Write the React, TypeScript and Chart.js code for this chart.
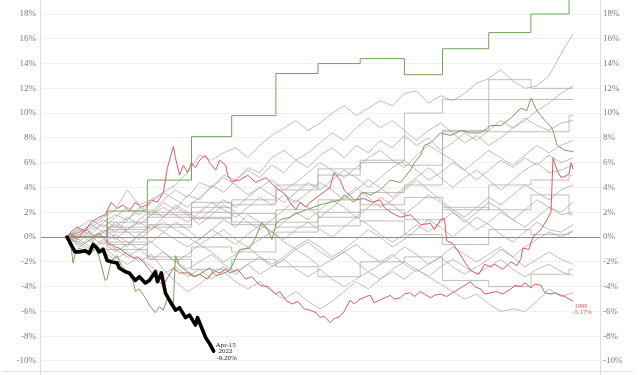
import React, { useEffect, useRef } from 'react';
import { Chart, registerables } from 'chart.js';
Chart.register(...registerables);

// trading-day index used as x
const grayDays = [0,6,12,18,24,30,36,42,48,54,60,66,72,78,84,90,96,102,108,114,120,126,132,138,144,150,156,162,168,174,180,186,192,198,204,210,216,222,228,234,240,246,252];
const monthDays = [0,20,40,62,82,104,125,146,168,187,210,231,250,252];

const grayA = [0,0.4,1.0,1.6,2.2,3.8,2.6,3.0,3.6,4.2,5.2,6.6,6.2,6.8,7.2,6.4,7.4,8.2,8.8,9.4,8.6,9.2,10.0,10.6,9.8,10.4,11.0,10.6,11.6,11.8,10.8,11.4,11.0,11.6,12.4,12.8,13.5,12.6,12.0,12.2,13.0,14.8,16.4];
const grayB = [0,0.6,0.2,1.2,1.8,1.4,2.4,2.0,3.0,3.8,3.2,4.4,4.0,5.0,4.6,5.6,5.2,6.4,7.0,6.2,6.8,7.6,8.4,7.8,8.8,9.6,8.8,9.4,8.6,7.8,8.6,9.2,8.4,7.6,8.2,7.4,8.0,8.8,9.4,10.2,10.8,11.6,12.2];
const grayC = [0,-0.4,0.6,1.0,0.4,1.4,2.2,1.8,2.8,2.2,3.4,3.0,4.2,3.6,4.6,5.4,4.8,5.8,5.2,6.2,5.6,6.6,7.2,6.4,7.4,6.8,7.8,7.2,8.2,7.4,8.0,7.0,7.6,8.4,7.8,8.6,9.4,8.8,9.6,9.0,8.6,9.2,9.4];
const grayD = [0,0.8,1.4,0.8,1.6,2.4,1.8,2.8,3.6,3.0,2.4,3.2,4.0,4.8,4.2,3.4,4.0,4.6,3.8,4.4,5.2,6.0,5.4,4.8,5.6,6.4,7.0,6.2,5.6,6.6,7.4,6.8,6.2,5.4,6.2,7.0,6.4,5.8,6.6,7.4,6.8,7.4,7.8];
const grayE = [0,0.2,-0.4,0.4,1.2,0.6,1.4,2.2,1.6,2.6,2.0,1.4,2.2,3.0,2.4,3.2,4.0,3.4,2.8,3.6,4.4,3.8,4.6,5.4,4.8,4.0,4.8,5.6,6.2,5.4,4.6,5.2,6.0,5.4,4.6,5.4,6.2,5.6,6.4,5.8,6.6,6.0,6.4];
const grayF = [0,0.4,1.0,0.4,-0.2,0.6,1.2,0.6,1.6,2.4,1.8,1.0,1.8,2.6,2.0,1.2,0.6,1.4,2.2,3.0,2.4,1.6,2.4,3.2,4.0,3.2,2.4,3.0,3.8,4.6,3.8,3.0,2.2,1.6,2.4,3.2,2.6,3.4,4.2,3.6,3.0,3.8,4.2];
const grayG = [0,-0.6,-0.2,0.6,0.0,-0.8,0.2,1.0,0.4,1.2,0.6,-0.2,0.6,1.4,0.8,1.8,1.2,0.4,1.2,2.0,1.4,2.2,3.0,2.4,1.6,2.4,3.2,2.6,1.8,2.6,3.4,2.8,2.0,1.2,2.0,2.8,2.2,1.4,2.2,3.0,2.4,2.0,2.8];
const grayH = [0,-0.4,-1.0,-0.4,-1.2,-0.6,0.2,-0.4,-1.2,-2.0,-1.4,-0.6,-1.2,-2.0,-1.4,-0.8,-1.6,-2.2,-1.6,-0.8,-0.2,-0.8,-1.6,-1.0,-0.2,0.6,0.0,-0.8,-0.2,0.6,1.4,0.8,0.0,0.8,1.6,1.0,0.2,-0.4,0.4,1.2,0.6,0.4,1.0];
const grayI = [0,-0.6,-1.2,-0.8,-1.6,-2.2,-1.6,-2.4,-3.0,-2.4,-3.2,-2.6,-3.4,-2.8,-3.6,-4.2,-3.6,-4.4,-5.0,-4.4,-5.2,-5.8,-5.2,-4.4,-3.6,-4.2,-3.4,-2.8,-3.4,-2.6,-3.2,-3.8,-4.4,-5.0,-4.6,-5.4,-6.0,-5.8,-6.0,-5.2,-4.2,-4.8,-4.5];
const grayJ = [0,-0.2,-0.8,-0.2,-1.0,-1.6,-1.0,-1.8,-1.2,-2.0,-2.6,-2.0,-1.4,-2.2,-2.8,-2.2,-3.0,-2.4,-1.8,-2.6,-3.2,-2.6,-3.4,-4.0,-3.4,-2.8,-3.4,-2.6,-2.0,-2.6,-3.2,-2.4,-1.8,-2.4,-3.0,-2.4,-1.8,-2.6,-3.2,-2.6,-2.2,-2.8,-3.1];
const grayK = [0,-0.8,-0.2,-1.2,-1.8,-1.2,-2.0,-1.4,-2.6,-3.6,-4.4,-3.8,-3.0,-2.4,-3.0,-2.2,-1.6,-2.4,-1.8,-1.0,-1.6,-2.4,-1.8,-1.2,-2.0,-2.8,-2.2,-1.6,-0.8,-1.4,-2.2,-1.6,-0.8,-1.4,-2.0,-1.4,-0.8,-1.6,-2.4,-1.8,-1.2,-1.8,-2.2];
const grayL = [0,0.6,0.0,-0.6,0.2,-0.4,-1.0,-0.4,0.4,-0.2,-0.8,-0.2,0.6,0.0,-0.6,0.2,1.0,0.4,-0.2,0.6,1.2,0.6,0.0,0.8,1.6,1.0,0.2,-0.4,0.2,1.0,0.4,1.2,2.0,1.4,0.6,1.2,2.0,1.4,0.8,1.6,2.4,1.8,2.0];
const grayM = [0,0.2,0.8,1.4,0.8,1.6,1.0,1.8,2.4,1.8,1.2,2.0,2.8,2.2,1.6,2.4,3.2,2.6,3.4,2.8,3.6,4.4,3.8,3.0,3.8,4.6,4.0,3.2,4.0,4.8,5.6,4.8,4.0,4.8,5.4,4.6,3.8,4.6,5.4,6.0,5.2,5.4,5.8];
const grayN = [0,0.4,-0.2,0.4,1.0,0.4,-0.2,0.6,1.2,0.6,0.0,-0.6,0.0,0.6,-0.2,-0.8,-0.2,0.4,-0.4,-1.0,-0.4,-1.2,-1.8,-1.2,-0.6,-1.4,-2.0,-1.4,-2.2,-2.8,-2.2,-1.6,-2.4,-3.0,-2.4,-1.8,-1.0,-1.6,-0.8,-0.2,0.4,0.0,0.5];

// monthly (stepped) years
const stepA = [0,0.8,1.6,2.4,3.0,4.2,5.0,6.2,10.0,11.1,11.1,11.1,11.1,11.1];
const stepB = [0,1.2,2.0,1.5,2.6,3.8,5.5,6.0,5.8,8.6,12.7,12.0,12.0,12.0];
const stepC = [0,-0.6,0.8,1.6,1.0,2.2,3.0,2.6,3.2,2.2,4.2,4.6,5.0,5.0];
const stepD = [0,-1.0,-1.6,-0.8,-1.2,0.4,0.9,1.3,0.2,-0.6,0.6,0.2,0.4,0.4];
const stepE = [0,0.4,1.8,2.8,1.9,1.2,2.0,3.6,4.2,8.5,8.5,8.5,9.8,9.8];
const stepF = [0,-0.4,-1.8,-2.6,-1.8,-2.4,-3.2,-2.0,-1.6,-3.5,-4.0,-3.0,-2.6,-2.6];
const stepG = [0,0.6,1.0,2.0,1.2,0.8,1.6,2.2,1.4,2.4,2.2,3.4,1.8,1.8];
const greenStep = [0,2.1,4.6,8.1,9.8,13.2,14.0,14.4,13.1,15.2,16.5,18.0,19.6,19.6];

const greenLine = [[0,0],[1,-0.6],[2,-0.7],[3,-2.1],[4,-1.4],[6,-0.9],[9,-1.1],[10,-1.3],[11,-1.5],[14,-0.9],[16,-1.6],[19,-3.5],[20,-3.4],[22,-1.9],[25,-1.5],[27,-2.3],[30,-2.8],[33,-3.6],[34,-4.4],[36,-4.2],[39,-4.9],[41,-5.5],[44,-6.1],[46,-5.6],[48,-5.9],[50,-4.9],[53,-5.3],[54,-1.5],[56,-2.3],[60,-2.8],[64,-3.2],[66,-3.0],[71,-2.5],[74,-3.1],[77,-3.0],[81,-2.7],[86,-1.0],[91,-0.9],[94,0.0],[97,1.2],[100,0.6],[102,-0.2],[104,1.0],[106,1.4],[111,1.6],[114,1.9],[116,2.0],[119,2.2],[121,2.3],[126,2.6],[131,2.8],[136,3.0],[138,3.4],[143,2.8],[146,3.4],[148,3.6],[151,3.4],[156,3.8],[161,4.6],[166,4.4],[168,4.8],[171,5.4],[173,6.0],[176,6.6],[178,7.4],[181,7.6],[186,8.4],[191,8.2],[196,8.6],[201,8.4],[206,8.4],[211,9.0],[216,9.0],[221,9.6],[226,10.4],[229,10.2],[231,11.2],[234,10.2],[236,9.8],[238,9.4],[241,8.9],[242,8.6],[244,7.4],[248,7.0],[252,6.9]];
const redUpper = [[0,0],[2,0.4],[5,0.8],[9,0.5],[12,1.2],[16,1.6],[19,1.8],[22,2.8],[25,2.3],[28,2.6],[31,2.1],[34,2.8],[37,2.4],[40,2.6],[42,3.0],[45,2.8],[48,3.6],[50,5.6],[53,7.3],[54,6.4],[56,5.0],[58,5.8],[60,5.2],[62,6.0],[64,5.6],[66,6.2],[69,6.6],[71,6.0],[74,5.4],[76,6.2],[79,5.8],[80,5.0],[82,4.5],[86,4.6],[90,5.0],[94,4.4],[99,4.8],[104,4.0],[109,3.4],[111,2.8],[114,2.2],[116,2.8],[119,2.4],[121,2.8],[126,3.4],[131,4.0],[133,5.2],[136,4.6],[138,3.8],[143,3.0],[148,3.1],[152,2.8],[156,3.0],[158,2.4],[161,2.0],[166,1.6],[171,1.8],[176,1.0],[181,1.1],[183,0.6],[186,1.4],[188,1.5],[189,-0.3],[192,-0.5],[195,-1.2],[198,-2.0],[201,-2.7],[205,-3.0],[208,-2.2],[211,-2.4],[213,-2.2],[217,-2.6],[221,-2.0],[224,-2.3],[226,-1.8],[227,-0.9],[230,-1.0],[232,0.0],[236,0.6],[239,1.4],[241,2.0],[242,6.4],[244,5.4],[246,4.8],[248,4.9],[250,5.1],[251,6.0],[252,5.5]];
const red1999 = [[0,0],[2,0.3],[5,-0.2],[8,0.4],[10,0.6],[13,0.1],[16,0.3],[19,-0.2],[21,-0.5],[24,-0.8],[26,-0.9],[30,-1.4],[33,-1.7],[35,-1.6],[38,-2.0],[41,-2.6],[45,-3.5],[48,-3.9],[50,-3.3],[53,-2.5],[56,-2.9],[60,-2.9],[63,-3.2],[66,-3.0],[70,-3.4],[73,-2.7],[76,-2.9],[79,-2.6],[81,-2.9],[85,-2.6],[89,-3.4],[92,-3.2],[96,-3.9],[100,-4.0],[104,-4.6],[106,-4.4],[109,-5.1],[112,-5.4],[115,-5.2],[118,-5.8],[121,-5.9],[124,-6.1],[126,-6.5],[128,-6.4],[131,-6.9],[133,-6.6],[136,-6.4],[138,-6.0],[141,-5.1],[143,-5.4],[146,-5.0],[149,-4.8],[151,-4.7],[153,-5.3],[157,-5.0],[161,-4.7],[163,-5.0],[166,-4.9],[168,-4.6],[171,-4.5],[173,-4.8],[176,-4.4],[178,-4.6],[181,-4.9],[183,-4.7],[186,-4.6],[189,-4.8],[192,-4.5],[195,-4.2],[197,-4.0],[201,-3.6],[203,-4.0],[206,-4.2],[208,-4.6],[211,-4.5],[214,-4.4],[217,-4.6],[221,-4.2],[223,-3.9],[226,-4.0],[228,-3.7],[231,-4.1],[233,-3.8],[236,-3.9],[238,-4.5],[241,-4.6],[243,-4.5],[246,-4.7],[248,-4.8],[250,-5.0],[252,-5.17]];
const line2022 = [[0,0],[1,-0.3],[2,-0.6],[4,-1.2],[6,-1.2],[9,-1.1],[11,-1.3],[13,-0.6],[15,-0.9],[16,-1.2],[18,-1.0],[20,-1.9],[22,-2.0],[25,-2.1],[26,-2.5],[29,-2.8],[31,-2.9],[34,-3.5],[36,-3.2],[39,-3.7],[41,-3.5],[44,-2.8],[45,-3.6],[47,-2.9],[49,-4.5],[51,-5.1],[54,-5.9],[56,-5.7],[59,-6.5],[61,-6.3],[64,-7.1],[65,-6.5],[66,-6.9],[69,-8.1],[71,-8.6],[73,-9.2]];

const label2022 = ['Apr-15', '2022', '-9.20%'];
const label1999 = ['1999', '-5.17%'];

const GRAY = 'rgba(168,158,154,0.68)';
const RED = '#d85a5e';
const GREEN = '#6fa45a';

const toPts = (days: number[], vals: number[]) => days.map((d, i) => ({ x: d, y: vals[i] }));
const pairPts = (arr: number[][]) => arr.map(p => ({ x: p[0], y: p[1] }));

export default function App() {
  const ref = useRef<HTMLCanvasElement>(null);
  useEffect(() => {
    const grays = [grayA, grayB, grayC, grayD, grayE, grayF, grayG, grayH, grayI, grayJ, grayK, grayL, grayM, grayN];
    const steps = [stepA, stepB, stepC, stepD, stepE, stepF, stepG];
    const base = { pointRadius: 0, borderWidth: 1, tension: 0, fill: false };
    const datasets: any[] = [
      { ...base, data: pairPts(line2022), borderColor: '#000', borderWidth: 3.6, borderJoinStyle: 'round', borderCapStyle: 'round' },
      { ...base, data: pairPts(red1999), borderColor: RED },
      { ...base, data: pairPts(redUpper), borderColor: RED },
      { ...base, data: pairPts(greenLine), borderColor: GREEN },
      { ...base, data: toPts(monthDays, greenStep), borderColor: GREEN, stepped: true },
      ...grays.map(g => ({ ...base, data: toPts(grayDays, g), borderColor: GRAY })),
      ...steps.map(s => ({ ...base, data: toPts(monthDays, s), borderColor: GRAY, stepped: true })),
    ];
    const tickFont = { family: 'Liberation Serif', size: 9 };
    const deco = {
      id: 'deco',
      beforeDatasetsDraw(chart: any) {
        const c = chart.ctx;
        const a = chart.chartArea;
        c.save();
        c.strokeStyle = '#dcdcdc';
        c.lineWidth = 1;
        c.beginPath();
        c.moveTo(a.left + 0.5, 0); c.lineTo(a.left + 0.5, 375);
        c.moveTo(a.right + 0.5, 0); c.lineTo(a.right + 0.5, 375);
        c.moveTo(3, a.bottom + 0.5); c.lineTo(633, a.bottom + 0.5);
        c.stroke();
        c.restore();
      },
      afterDatasetsDraw(chart: any) {
        const c = chart.ctx;
        const xs = chart.scales.x, ys = chart.scales.y;
        const b = line2022[line2022.length - 1];
        const bx = xs.getPixelForValue(b[0]), by = ys.getPixelForValue(b[1]);
        c.save();
        c.textAlign = 'center';
        c.textBaseline = 'middle';
        c.font = '7px "Liberation Serif"';
        c.fillStyle = '#222';
        c.fillText(label2022[0], bx + 12, by - 6);
        c.fillText(label2022[1], bx + 12, by + 0.5);
        c.fillText(label2022[2], bx + 13, by + 7);
        const r = red1999[red1999.length - 1];
        const rx = xs.getPixelForValue(r[0]), ry = ys.getPixelForValue(r[1]);
        c.fillStyle = RED;
        c.font = '6.5px "Liberation Serif"';
        c.fillText(label1999[0], rx + 8, ry + 5.5);
        c.fillText(label1999[1], rx + 9, ry + 11.5);
        c.restore();
      },
    };
    const chart = new Chart(ref.current!, {
      type: 'line',
      data: { datasets },
      options: {
        responsive: false,
        animation: false,
        devicePixelRatio: 1,
        layout: { padding: { top: 0, bottom: 4, left: 0, right: 0 } },
        plugins: { legend: { display: false }, tooltip: { enabled: false } },
        scales: {
          x: { type: 'linear', min: -13.45, max: 265.4, display: false },
          y: {
            position: 'left', min: -10.81, max: 19.13,
            ticks: { stepSize: 2, includeBounds: false, padding: 4, color: '#7a7a7a', font: tickFont, callback: (v: any) => v + '%' },
            grid: { drawTicks: false, color: (ctx: any) => (ctx.tick && ctx.tick.value === 0 ? '#8c8c8c' : '#f1f1f1') },
            border: { display: false },
            afterFit: (s: any) => { s.width = 40; s.paddingTop = 0; s.paddingBottom = 0; },
          },
          y2: {
            position: 'right', min: -10.81, max: 19.13,
            ticks: { stepSize: 2, includeBounds: false, padding: 3, color: '#7a7a7a', font: tickFont, callback: (v: any) => v + '%' },
            grid: { display: false, drawTicks: false },
            border: { display: false },
            afterFit: (s: any) => { s.width = 40; s.paddingTop = 0; s.paddingBottom = 0; },
          },
        },
      } as any,
      plugins: [deco],
    });
    return () => chart.destroy();
  }, []);
  return (
    <div style={{ position: 'fixed', left: 0, top: 0, width: 640, height: 375, background: '#fff' }}>
      <canvas ref={ref} width={640} height={375} style={{ display: 'block', width: 640, height: 375 }} />
    </div>
  );
}
